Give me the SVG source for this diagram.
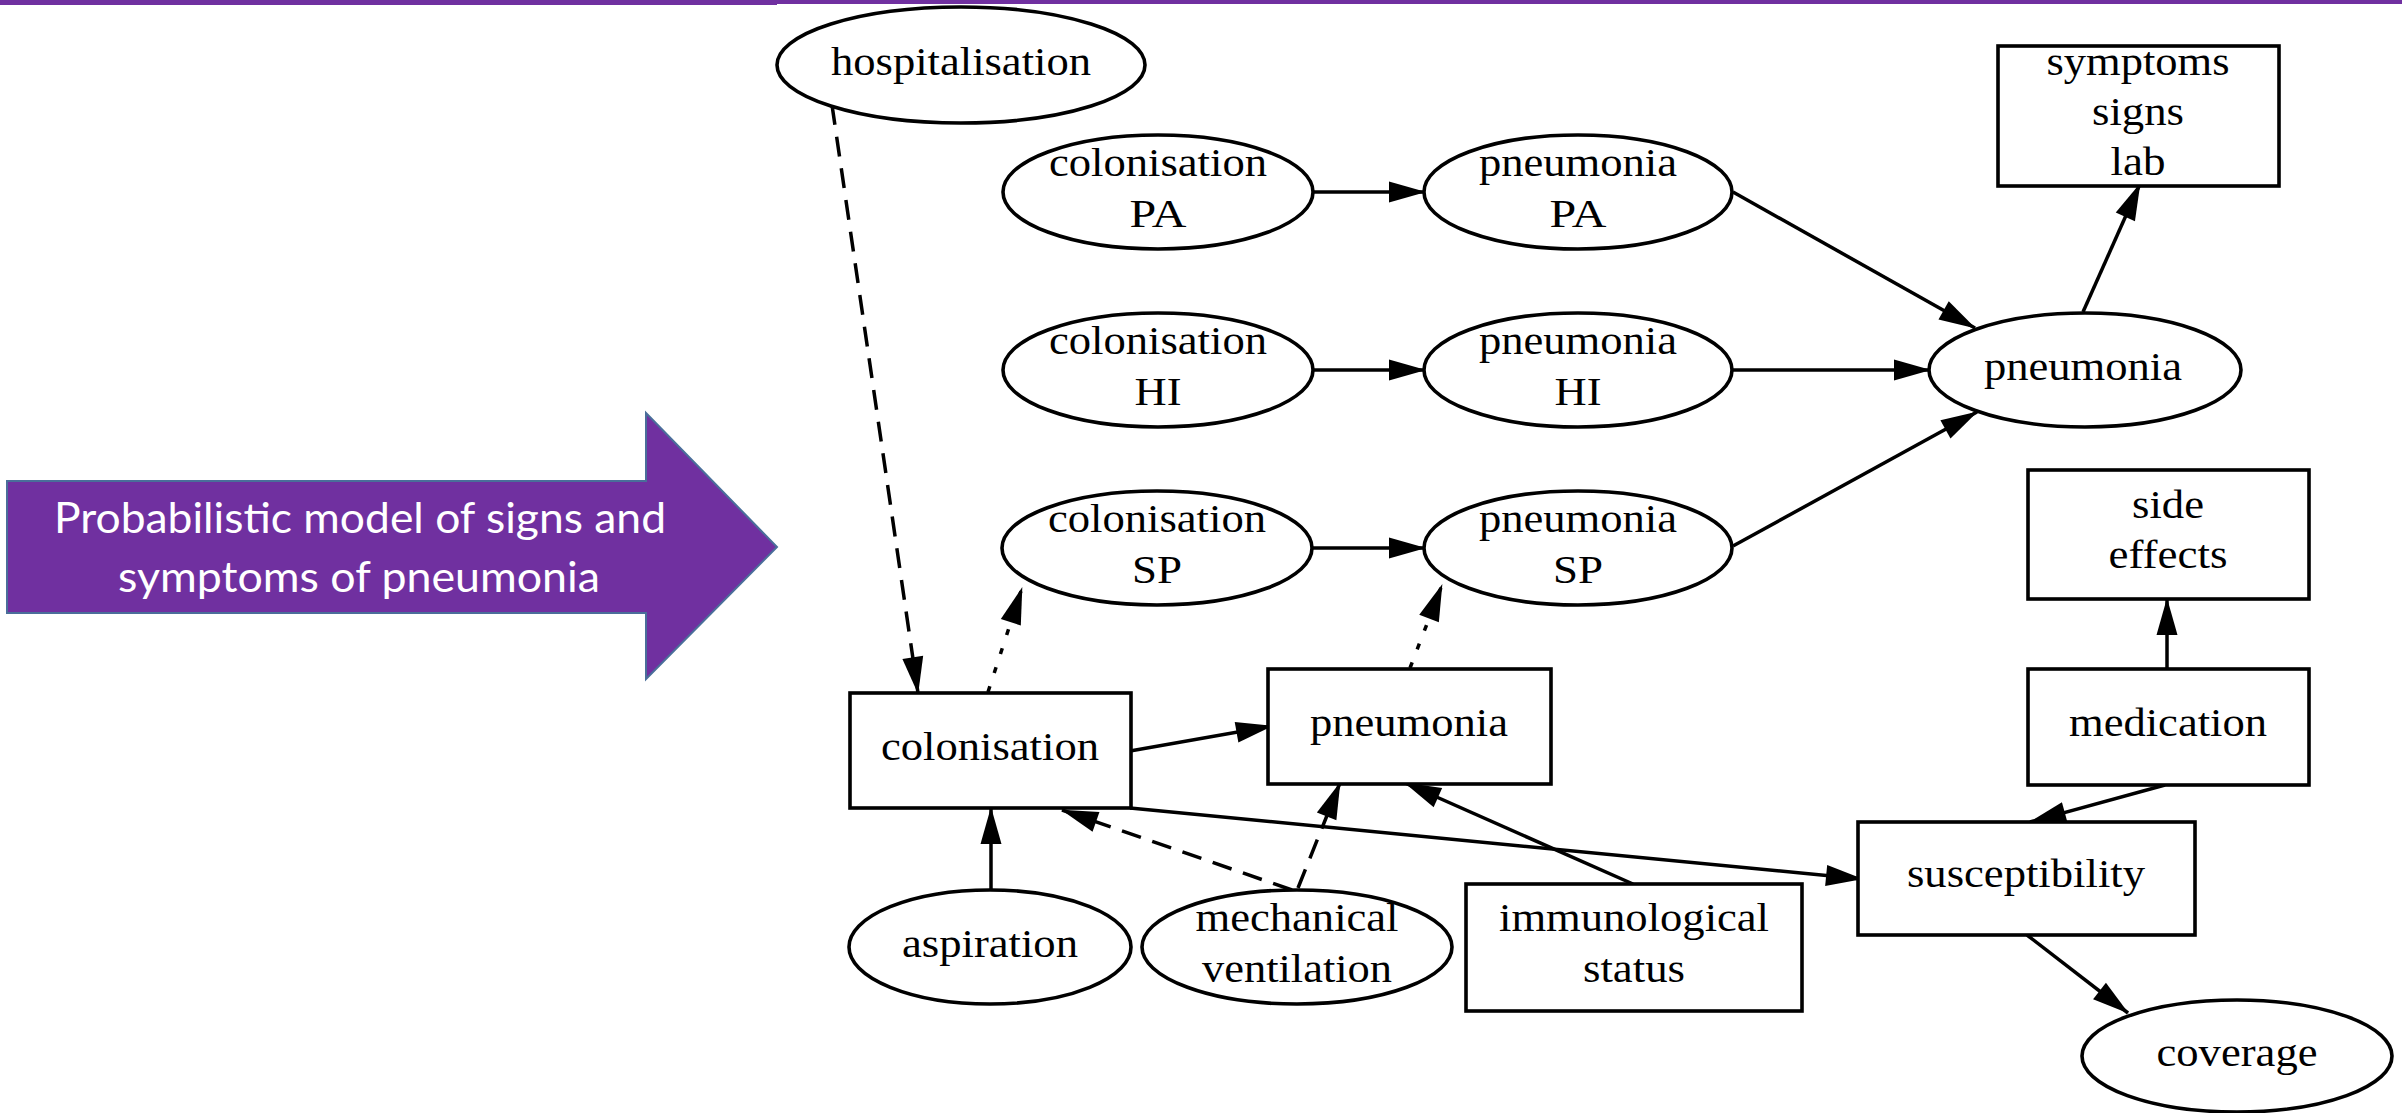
<svg xmlns="http://www.w3.org/2000/svg" width="2402" height="1113" viewBox="0 0 2402 1113">
  <style>
    .node ellipse, .node rect { fill: #ffffff; stroke: #000000; stroke-width: 3.6; }
    .node text { font-family: "Liberation Serif", "Times New Roman", serif; font-size: 39px; fill: #000000; text-anchor: middle; }
    #edges path { fill: none; stroke: #000000; stroke-width: 3.5; marker-end: url(#head); }
    #edges .dashed { stroke-dasharray: 20 12; }
    #edges .dotted { stroke-dasharray: 6 14; }
    .banner-text { font-family: Lato, "Open Sans", sans-serif; font-size: 42px; fill: #ffffff; text-anchor: middle; }
  </style>
  <defs>
    <marker id="head" markerUnits="userSpaceOnUse" markerWidth="40" markerHeight="24" refX="36" refY="10.5" orient="auto" overflow="visible">
      <path d="M0,0 L37,10.5 L0,21 Z" fill="#000000" stroke="none"/>
    </marker>
  </defs>

  <rect width="2402" height="1113" fill="#ffffff"/>

  <!-- title rule along the top -->
  <rect x="0" y="0" width="777" height="5" fill="#7030A0"/>
  <rect x="777" y="0" width="1625" height="4" fill="#7030A0"/>

  <!-- banner arrow -->
  <g id="banner">
    <path d="M7,481 L646,481 L646,413 L777,547 L646,679 L646,613 L7,613 Z" fill="#7030A0" stroke="#4A6E9A" stroke-width="2"/>
    <text class="banner-text" x="360" y="533" textLength="612" lengthAdjust="spacingAndGlyphs">Probabilistic model of signs and</text>
    <text class="banner-text" x="359" y="592" textLength="482" lengthAdjust="spacingAndGlyphs">symptoms of pneumonia</text>
  </g>

  <!-- connectors -->
  <g id="edges">
    <path class="dashed" d="M832,105 L918,693"/>
    <path class="dotted" d="M988,692 L1022,588"/>
    <path d="M1130,751 L1272,726"/>
    <path class="dotted" d="M1410,668 L1442,585"/>
    <path d="M1313,192 L1425,192"/>
    <path d="M1313,370 L1425,370"/>
    <path d="M1313,548 L1425,548"/>
    <path d="M1733,192 L1975,328"/>
    <path d="M1732,370 L1930,370"/>
    <path d="M1733,546 L1977,412"/>
    <path d="M2083,312 L2140,184"/>
    <path d="M2167,669 L2167,599"/>
    <path d="M2165,785 L2030,822"/>
    <path d="M2027,935 L2128,1013"/>
    <path d="M1130,808 L1862,879"/>
    <path d="M991,890 L991,808"/>
    <path class="dashed" d="M1292,890 L1062,810"/>
    <path class="dashed" d="M1298,888 L1340,783"/>
    <path d="M1633,884 L1405,783"/>
  </g>

  <!-- nodes -->
  <g id="hospitalisation" class="node">
    <ellipse cx="961" cy="65" rx="184" ry="58"/>
    <text x="961" y="75" textLength="260" lengthAdjust="spacingAndGlyphs">hospitalisation</text>
  </g>
  <g id="colonisation-pa" class="node">
    <ellipse cx="1158" cy="192" rx="155" ry="57"/>
    <text x="1158" y="176" textLength="218" lengthAdjust="spacingAndGlyphs">colonisation</text>
    <text x="1158" y="227" textLength="57" lengthAdjust="spacingAndGlyphs">PA</text>
  </g>
  <g id="pneumonia-pa" class="node">
    <ellipse cx="1578" cy="192" rx="154" ry="57"/>
    <text x="1578" y="176" textLength="198" lengthAdjust="spacingAndGlyphs">pneumonia</text>
    <text x="1578" y="227" textLength="57" lengthAdjust="spacingAndGlyphs">PA</text>
  </g>
  <g id="colonisation-hi" class="node">
    <ellipse cx="1158" cy="370" rx="155" ry="57"/>
    <text x="1158" y="354" textLength="218" lengthAdjust="spacingAndGlyphs">colonisation</text>
    <text x="1158" y="405" textLength="47" lengthAdjust="spacingAndGlyphs">HI</text>
  </g>
  <g id="pneumonia-hi" class="node">
    <ellipse cx="1578" cy="370" rx="154" ry="57"/>
    <text x="1578" y="354" textLength="198" lengthAdjust="spacingAndGlyphs">pneumonia</text>
    <text x="1578" y="405" textLength="47" lengthAdjust="spacingAndGlyphs">HI</text>
  </g>
  <g id="colonisation-sp" class="node">
    <ellipse cx="1157" cy="548" rx="155" ry="57"/>
    <text x="1157" y="532" textLength="218" lengthAdjust="spacingAndGlyphs">colonisation</text>
    <text x="1157" y="583" textLength="50" lengthAdjust="spacingAndGlyphs">SP</text>
  </g>
  <g id="pneumonia-sp" class="node">
    <ellipse cx="1578" cy="548" rx="154" ry="57"/>
    <text x="1578" y="532" textLength="198" lengthAdjust="spacingAndGlyphs">pneumonia</text>
    <text x="1578" y="583" textLength="50" lengthAdjust="spacingAndGlyphs">SP</text>
  </g>
  <g id="pneumonia" class="node">
    <ellipse cx="2085" cy="370" rx="156" ry="57"/>
    <text x="2083" y="380" textLength="198" lengthAdjust="spacingAndGlyphs">pneumonia</text>
  </g>
  <g id="symptoms-signs-lab" class="node">
    <rect x="1998" y="46" width="281" height="140"/>
    <text x="2138" y="75" textLength="183" lengthAdjust="spacingAndGlyphs">symptoms</text>
    <text x="2138" y="125" textLength="92" lengthAdjust="spacingAndGlyphs">signs</text>
    <text x="2138" y="175" textLength="55" lengthAdjust="spacingAndGlyphs">lab</text>
  </g>
  <g id="side-effects" class="node">
    <rect x="2028" y="470" width="281" height="129"/>
    <text x="2168" y="518" textLength="72" lengthAdjust="spacingAndGlyphs">side</text>
    <text x="2168" y="568" textLength="119" lengthAdjust="spacingAndGlyphs">effects</text>
  </g>
  <g id="medication" class="node">
    <rect x="2028" y="669" width="281" height="116"/>
    <text x="2168" y="736" textLength="198" lengthAdjust="spacingAndGlyphs">medication</text>
  </g>
  <g id="susceptibility" class="node">
    <rect x="1858" y="822" width="337" height="113"/>
    <text x="2026" y="887" textLength="238" lengthAdjust="spacingAndGlyphs">susceptibility</text>
  </g>
  <g id="coverage" class="node">
    <ellipse cx="2237" cy="1056" rx="155" ry="56"/>
    <text x="2237" y="1066" textLength="161" lengthAdjust="spacingAndGlyphs">coverage</text>
  </g>
  <g id="colonisation" class="node">
    <rect x="850" y="693" width="281" height="115"/>
    <text x="990" y="760" textLength="218" lengthAdjust="spacingAndGlyphs">colonisation</text>
  </g>
  <g id="pneumonia-state" class="node">
    <rect x="1268" y="669" width="283" height="115"/>
    <text x="1409" y="736" textLength="198" lengthAdjust="spacingAndGlyphs">pneumonia</text>
  </g>
  <g id="aspiration" class="node">
    <ellipse cx="990" cy="947" rx="141" ry="57"/>
    <text x="990" y="957" textLength="176" lengthAdjust="spacingAndGlyphs">aspiration</text>
  </g>
  <g id="mechanical-ventilation" class="node">
    <ellipse cx="1297" cy="947" rx="155" ry="57"/>
    <text x="1297" y="931" textLength="203" lengthAdjust="spacingAndGlyphs">mechanical</text>
    <text x="1297" y="982" textLength="190" lengthAdjust="spacingAndGlyphs">ventilation</text>
  </g>
  <g id="immunological-status" class="node">
    <rect x="1466" y="884" width="336" height="127"/>
    <text x="1634" y="931" textLength="270" lengthAdjust="spacingAndGlyphs">immunological</text>
    <text x="1634" y="982" textLength="102" lengthAdjust="spacingAndGlyphs">status</text>
  </g>
</svg>
